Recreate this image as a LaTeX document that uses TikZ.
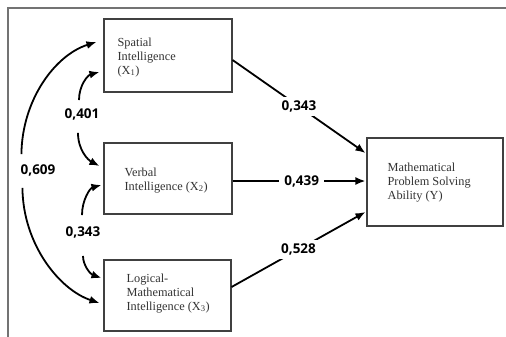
\documentclass[tikz,border=0pt]{standalone}
\usepackage{fontspec}
\setmainfont{Liberation Serif}
\newfontfamily\labfont{Open Sans}
\usetikzlibrary{arrows.meta}
\begin{document}
\begin{tikzpicture}[x=1pt,y=-1pt,
  box/.style={draw=black!75, line width=1.1pt, minimum width=#1, inner sep=0pt},
  txt/.style={anchor=north west, inner sep=0pt, align=left, text=black!80,
     font=\fontsize{12.3}{14}\selectfont},
  coef/.style={inner sep=0pt, font=\labfont\bfseries\fontsize{13.5}{14}\selectfont},
  midcoef/.style={fill=white, inner xsep=5pt, inner ysep=4pt, font=\labfont\bfseries\fontsize{13.5}{14}\selectfont},
  arr/.style={line width=1.8pt, -{Latex[length=10pt,width=8pt]}},
  frame/.style={draw=black!55, line width=1.4pt}]
\useasboundingbox (0,0) rectangle (506,337);
\fill[white] (0,0) rectangle (506,337);
% frame
\coordinate (fl) at (8,337);
\coordinate (fc) at (8,8);
\coordinate (fr) at (506,8);
\draw[frame] (fl) -- (fc) -- (fr);
% boxes
\node[box=128pt, minimum height=73pt] (X1) at (168,55.5) {};
\node[box=128pt, minimum height=71pt] (X2) at (168,178.5) {};
\node[box=127pt, minimum height=71pt] (X3) at (167.5,295.5) {};
\node[box=136pt, minimum height=88pt] (Y) at (435,182) {};
% texts
\node[txt] (t1) at ([xshift=14pt,yshift=-19pt]X1.north west) {Spatial\\Intelligence\\(X\textsubscript{1})};
\node[txt] (t2) at ([xshift=21pt,yshift=-25pt]X2.north west) {Verbal\\Intelligence (X\textsubscript{2})};
\node[txt] (t3) at ([xshift=23pt,yshift=-14pt]X3.north west) {Logical-\\Mathematical\\Intelligence (X\textsubscript{3})};
\node[txt] (ty) at ([xshift=21pt,yshift=-25pt]Y.north west) {Mathematical\\Problem Solving\\Ability (Y)};
% path arrows
\draw[arr] ([yshift=-4.5pt]X1.east) -- node[midcoef] {0,343} ([yshift=29pt,xshift=-1pt]Y.west);
\draw[arr] ([yshift=-2.5pt]X2.east) -- node[midcoef, pos=0.52] {0,439} ([yshift=1pt,xshift=-1pt]Y.west);
\draw[arr] ([yshift=8.5pt]X3.east) -- node[midcoef] {0,528} ([yshift=-30pt,xshift=-1pt]Y.west);
% correlation labels
\node[coef] (c609) at (38,170) {0,609};
\node[coef] (c401) at (82,114) {0,401};
\node[coef] (c343) at (83,232) {0,343};
% 0,609
\draw[arr] ([yshift=10pt,xshift=1pt]c609.north west) .. controls (22,100) and (55,55) .. ([xshift=-7pt,yshift=13.5pt]X1.west);
\draw[arr] ([yshift=-12pt,xshift=2pt]c609.south west) .. controls (23,245) and (60,290) .. ([xshift=-4pt,yshift=-7.5pt]X3.west);
% 0,401
\draw[arr] ([yshift=8pt,xshift=-3pt]c401.north) .. controls (79,85) and (88,75) .. ([xshift=-4pt,yshift=-16.5pt]X1.west);
\draw[arr] ([yshift=-13pt,xshift=-4pt]c401.south) .. controls (78,150) and (88,160) .. ([xshift=-4pt,yshift=12.5pt]X2.west);
% 0,343
\draw[arr] ([yshift=11pt,xshift=-1pt]c343.north) .. controls (82,200) and (90,188) .. ([xshift=-2pt,yshift=-6.5pt]X2.west);
\draw[arr] ([yshift=-18pt]c343.south) .. controls (83,265) and (90,274) .. ([xshift=-2pt,yshift=17.5pt]X3.west);
\end{tikzpicture}
\end{document}
